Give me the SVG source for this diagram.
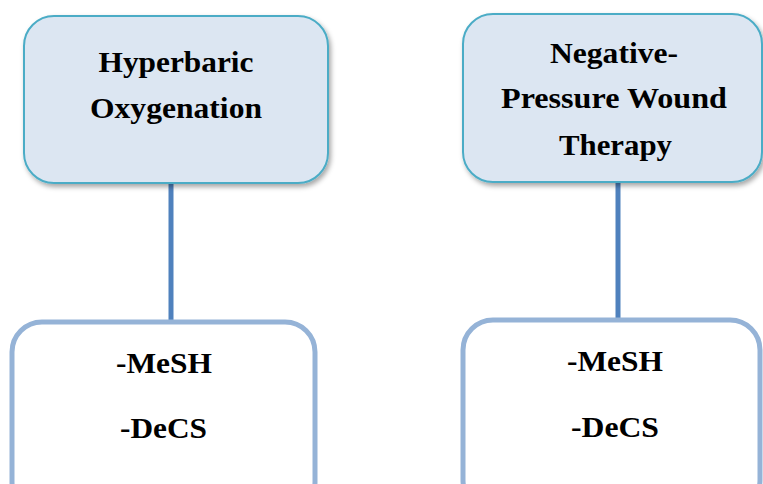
<svg xmlns="http://www.w3.org/2000/svg" width="763" height="484" viewBox="0 0 763 484">
<style>
.top{fill:#dce6f2;stroke:#4bacc6;stroke-width:2;filter:url(#sh)}
.bot{fill:#ffffff;stroke:#95b3d7;stroke-width:5}
.t{font-family:'Liberation Serif','Times New Roman',serif;font-weight:bold;font-size:29px;fill:#000;text-anchor:middle}
.c{stroke:#4f81bd;stroke-width:5;fill:none}
</style>
<defs>
<filter id="sh" x="-10%" y="-10%" width="125%" height="130%">
<feDropShadow dx="2" dy="3" stdDeviation="2.5" flood-color="#000" flood-opacity="0.35"/>
</filter>
</defs>
<rect width="763" height="484" fill="#fff"/>
<g id="connectors">
<line class="c" x1="171" y1="183" x2="171" y2="322"/>
<line class="c" x1="618" y1="182" x2="618" y2="320"/>
</g>
<g id="hbo">
<rect class="top" x="24" y="16" width="304" height="167" rx="30"/>
<text class="t" x="176" y="72" textLength="155" lengthAdjust="spacingAndGlyphs">Hyperbaric</text>
<text class="t" x="176" y="118" textLength="172" lengthAdjust="spacingAndGlyphs">Oxygenation</text>
</g>
<g id="npwt">
<rect class="top" x="463" y="14" width="299" height="168" rx="30"/>
<text class="t" x="614" y="63" textLength="128" lengthAdjust="spacingAndGlyphs">Negative-</text>
<text class="t" x="614" y="108" textLength="226" lengthAdjust="spacingAndGlyphs">Pressure Wound</text>
<text class="t" x="615.5" y="155" textLength="113" lengthAdjust="spacingAndGlyphs">Therapy</text>
</g>
<g id="terms-left">
<rect class="bot" x="12" y="322" width="303" height="190" rx="30"/>
<text class="t" x="164" y="373" textLength="96" lengthAdjust="spacingAndGlyphs">-MeSH</text>
<text class="t" x="163.5" y="438" textLength="87" lengthAdjust="spacingAndGlyphs">-DeCS</text>
</g>
<g id="terms-right">
<rect class="bot" x="463" y="320" width="297" height="190" rx="30"/>
<text class="t" x="615" y="371" textLength="96" lengthAdjust="spacingAndGlyphs">-MeSH</text>
<text class="t" x="615" y="437" textLength="88" lengthAdjust="spacingAndGlyphs">-DeCS</text>
</g>
</svg>
